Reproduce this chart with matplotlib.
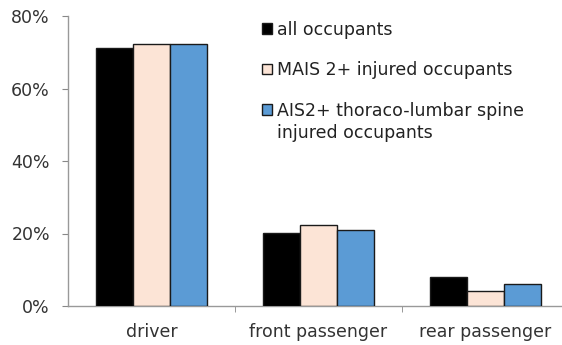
import matplotlib
matplotlib.use("Agg")
import matplotlib.pyplot as plt
import numpy as np
from matplotlib.ticker import FuncFormatter

plt.rcParams['font.family'] = ['DejaVu Sans']

categories = ["driver", "front passenger", "rear passenger"]
series_names = ["all occupants", "MAIS 2+ injured occupants",
                "AIS2+ thoraco-lumbar spine"]
series_name_cont = "injured occupants"
all_occupants = [71.3, 20.1, 7.9]
mais2_injured = [72.4, 22.3, 4.1]
ais2_spine = [72.4, 21.0, 6.1]
series = [all_occupants, mais2_injured, ais2_spine]
colors = ["#000000", "#FCE4D6", "#5B9BD5"]
yticks = [0, 20, 40, 60, 80]

fig = plt.figure(figsize=(5.62, 3.45), dpi=100)
ax = fig.add_axes([68 / 562, 39 / 345, 501 / 562, 290 / 345])

x = np.arange(len(categories))
w = 0.222
for i, (vals, c) in enumerate(zip(series, colors)):
    ax.bar(x + (i - 1) * w, vals, width=w, color=c, edgecolor="#1a1a1a",
           linewidth=1.0, label=series_names[i], zorder=3)

ax.set_xlim(-0.5, 2.5)
ax.set_ylim(0, 80)
ax.set_yticks(yticks)
ax.yaxis.set_major_formatter(FuncFormatter(lambda v, p: f"{int(v)}%"))
ax.set_xticks(x)
ax.set_xticklabels(categories)
ax.set_xticks([0.5, 1.5], minor=True)
ax.tick_params(axis="x", which="major", length=0, pad=12, labelsize=12.5, colors="#333333")
ax.tick_params(axis="x", which="minor", length=4, color="#888888", direction="out")
ax.tick_params(axis="y", length=4, color="#888888", labelsize=12.5, labelcolor="#333333", pad=9)
for s in ["top", "right"]:
    ax.spines[s].set_visible(False)
for s in ["left", "bottom"]:
    ax.spines[s].set_color("#999999")
    ax.spines[s].set_linewidth(1.0)

leg = ax.legend(loc="upper left", bbox_to_anchor=(0.367, 1.02), frameon=False,
                fontsize=12.5, handlelength=0.55, handleheight=0.55, handletextpad=0.3,
                labelspacing=1.3, borderaxespad=0.2)
for t in leg.get_texts():
    t.set_color("#222222")

# continuation line of the third legend label, aligned under its first line
fig.canvas.draw()
renderer = fig.canvas.get_renderer()
bb = leg.get_texts()[2].get_window_extent(renderer)
fig.text(bb.x0 / fig.dpi / fig.get_figwidth(), (bb.y0 - 22) / fig.dpi / fig.get_figheight(),
         series_name_cont, fontsize=12.5, color="#222222", ha="left", va="bottom")

fig.savefig("out.png", dpi=100)
